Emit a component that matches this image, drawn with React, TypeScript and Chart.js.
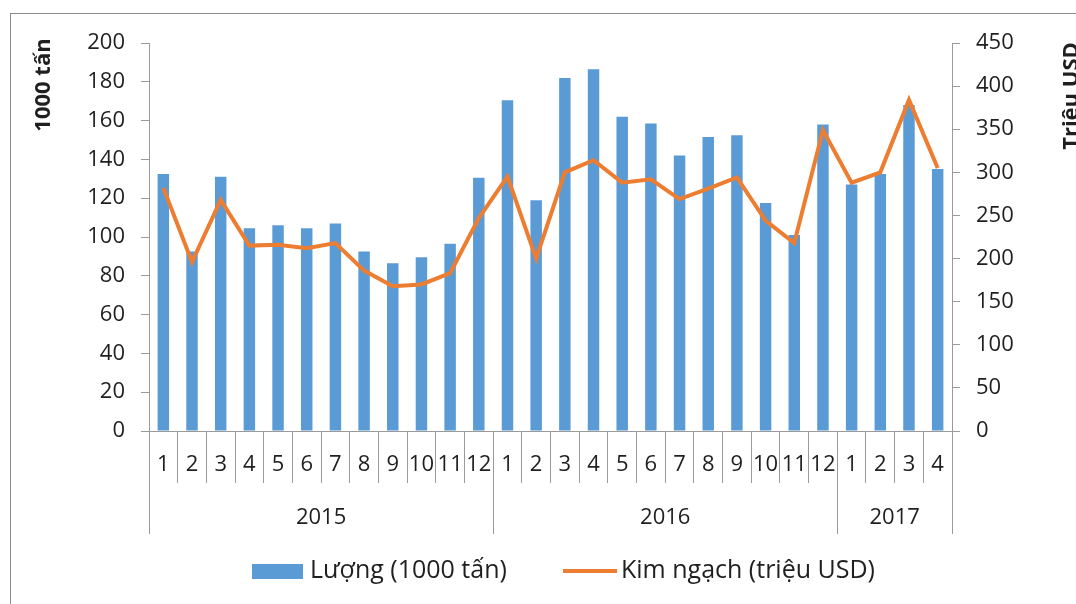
import React, { useEffect, useRef } from "react";
import { Chart, registerables } from "chart.js";

Chart.register(...registerables);

// ---- Data ----
const monthLabels: string[] = [
  "1", "2", "3", "4", "5", "6", "7", "8", "9", "10", "11", "12",
  "1", "2", "3", "4", "5", "6", "7", "8", "9", "10", "11", "12",
  "1", "2", "3", "4",
];
const yearLabels: string[] = ["2015", "2016", "2017"];
const yearMonthCounts: number[] = [12, 12, 4];

const volumeSeriesName = "Lượng (1000 tấn)";
const valueSeriesName = "Kim ngạch (triệu USD)";

const volume: number[] = [
  132.5, 92.5, 131, 104.5, 106, 104.5, 107, 92.5, 86.5, 89.5, 96.5, 130.5,
  170.5, 119, 182, 186.5, 162, 158.5, 142, 151.5, 152.5, 117.5, 101, 158,
  127, 132.5, 168, 135,
];
const value: number[] = [
  282, 196, 268, 215, 216, 212, 218, 186, 168, 170, 183, 247,
  295, 200, 300, 314, 288, 292, 269, 281, 294, 244, 218, 349,
  288, 300, 384, 305,
];

const leftAxisTitle = "1000 tấn";
const rightAxisTitle = "Triệu USD";

// ---- Styles ----
const FONT = "'Open Sans', 'Noto Sans', sans-serif";
const BAR_COLOR = "#5B9BD5";
const LINE_COLOR = "#ED7D31";
const AXIS_COLOR = "#9a9a9a";
const TEXT_COLOR = "#1f1f1f";

const overlayPlugin = {
  id: "overlay",
  afterDraw(chart: any) {
    const ctx = chart.ctx as CanvasRenderingContext2D;
    const x = chart.scales.x;
    const area = chart.chartArea;
    const step = x.getPixelForValue(1) - x.getPixelForValue(0);
    const boundary = (i: number) => x.getPixelForValue(0) + (i - 0.5) * step;

    ctx.save();
    // year separators
    ctx.strokeStyle = AXIS_COLOR;
    ctx.lineWidth = 1;
    let idx = 0;
    const bounds: number[] = [0];
    yearMonthCounts.forEach((c) => {
      idx += c;
      bounds.push(idx);
    });
    bounds.forEach((b) => {
      const px = Math.round(boundary(b)) + 0.5;
      ctx.beginPath();
      ctx.moveTo(px, area.bottom);
      ctx.lineTo(px, area.bottom + 103);
      ctx.stroke();
    });
    // year labels
    ctx.fillStyle = TEXT_COLOR;
    ctx.font = `22px ${FONT}`;
    ctx.textAlign = "center";
    ctx.textBaseline = "middle";
    yearLabels.forEach((yl, i) => {
      const cx = (boundary(bounds[i]) + boundary(bounds[i + 1])) / 2;
      ctx.fillText(yl, cx, area.bottom + 87);
    });

    // axis titles
    ctx.font = `bold 22px ${FONT}`;
    ctx.textBaseline = "alphabetic";
    ctx.textAlign = "center";
    ctx.save();
    ctx.translate(50, 85);
    ctx.rotate(-Math.PI / 2);
    ctx.fillText(leftAxisTitle, 0, 0);
    ctx.restore();
    ctx.save();
    ctx.translate(1078, 96);
    ctx.rotate(-Math.PI / 2);
    ctx.fillText(rightAxisTitle, 0, 0);
    ctx.restore();

    // legend
    const ly = 571;
    ctx.fillStyle = BAR_COLOR;
    ctx.fillRect(252, 564, 51, 15);
    ctx.fillStyle = TEXT_COLOR;
    ctx.font = `25px ${FONT}`;
    ctx.textAlign = "left";
    ctx.textBaseline = "middle";
    ctx.fillText(volumeSeriesName, 310, ly);
    ctx.strokeStyle = LINE_COLOR;
    ctx.lineWidth = 4;
    ctx.beginPath();
    ctx.moveTo(563, ly);
    ctx.lineTo(617, ly);
    ctx.stroke();
    ctx.fillText(valueSeriesName, 621, ly);
    ctx.restore();
  },
};

export default function App() {
  const ref = useRef<HTMLCanvasElement | null>(null);

  useEffect(() => {
    if (!ref.current) return;
    const chart = new Chart(ref.current, {
      type: "bar",
      data: {
        labels: monthLabels,
        datasets: [
          {
            type: "line",
            label: valueSeriesName,
            data: value,
            yAxisID: "y1",
            borderColor: LINE_COLOR,
            backgroundColor: LINE_COLOR,
            borderWidth: 4,
            pointRadius: 0,
            tension: 0,
            order: 0,
          } as any,
          {
            type: "bar",
            label: volumeSeriesName,
            data: volume,
            yAxisID: "y",
            backgroundColor: BAR_COLOR,
            barPercentage: 0.4,
            categoryPercentage: 1.0,
            order: 1,
          } as any,
        ],
      },
      options: {
        responsive: false,
        animation: false,
        devicePixelRatio: 1,
        layout: { padding: { top: 43, left: 0, right: 0, bottom: 0 } },
        plugins: {
          legend: { display: false },
          tooltip: { enabled: false },
          title: { display: false },
        },
        scales: {
          x: {
            type: "category",
            offset: true,
            grid: {
              display: true,
              offset: true,
              drawOnChartArea: false,
              drawTicks: true,
              tickLength: 52,
              color: AXIS_COLOR,
            },
            border: { display: true, color: AXIS_COLOR },
            ticks: {
              autoSkip: false,
              maxRotation: 0,
              minRotation: 0,
              padding: -31,
              color: TEXT_COLOR,
              font: { family: FONT, size: 22 },
            },
            afterFit: (s: any) => {
              s.height = 173;
            },
          },
          y: {
            position: "left",
            min: 0,
            max: 200,
            ticks: {
              stepSize: 20,
              padding: 16,
              color: TEXT_COLOR,
              font: { family: FONT, size: 22 },
            },
            grid: {
              drawOnChartArea: false,
              drawTicks: true,
              tickLength: 8,
              color: AXIS_COLOR,
            },
            border: { display: true, color: AXIS_COLOR },
            afterFit: (s: any) => {
              s.width = 149;
            },
          },
          y1: {
            position: "right",
            min: 0,
            max: 450,
            ticks: {
              stepSize: 50,
              padding: 16,
              color: TEXT_COLOR,
              font: { family: FONT, size: 22 },
            },
            grid: {
              drawOnChartArea: false,
              drawTicks: true,
              tickLength: 8,
              color: AXIS_COLOR,
            },
            border: { display: true, color: AXIS_COLOR },
            afterFit: (s: any) => {
              s.width = 124;
            },
          },
        },
      },
      plugins: [overlayPlugin],
    } as any);
    return () => chart.destroy();
  }, []);

  return (
    <div
      style={{
        position: "fixed",
        left: 0,
        top: 0,
        width: 1076,
        height: 604,
        overflow: "hidden",
        background: "#ffffff",
      }}
    >
      <div
        style={{
          position: "absolute",
          left: 10,
          top: 13,
          width: 1200,
          height: 800,
          border: "1px solid #8c8c8c",
          boxSizing: "border-box",
        }}
      />
      <canvas
        ref={ref}
        width={1076}
        height={604}
        style={{ position: "absolute", left: 0, top: 0, width: 1076, height: 604 }}
      />
    </div>
  );
}
